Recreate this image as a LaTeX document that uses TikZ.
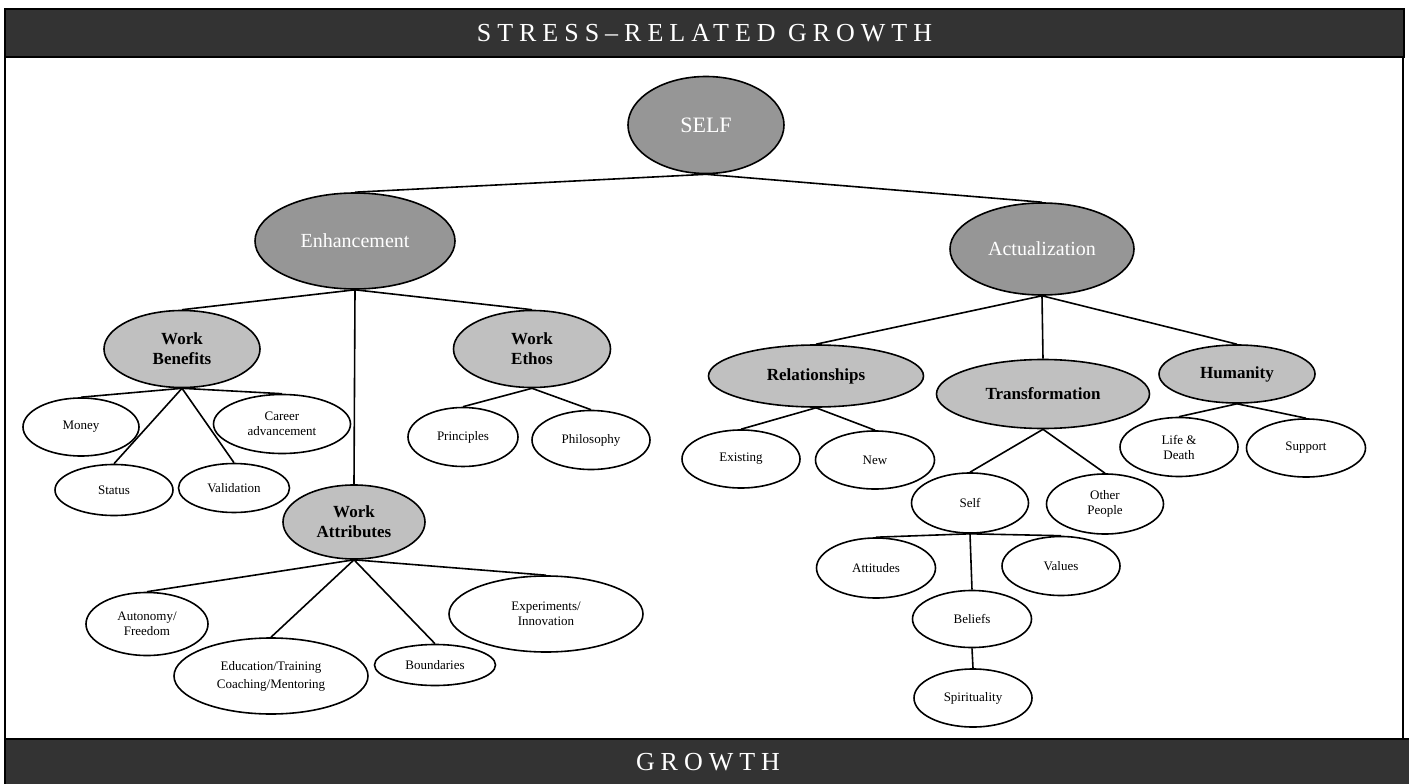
\documentclass[tikz,border=0pt]{standalone}
\usepackage{fontspec}
\setmainfont{Liberation Serif}
\newfontfamily\spacedfont[LetterSpace=23]{Liberation Serif}
\usetikzlibrary{shapes.geometric}
\definecolor{bardark}{HTML}{333333}
\definecolor{topgray}{HTML}{969696}
\definecolor{midgray}{HTML}{C0C0C0}
\tikzset{
  oval/.style={ellipse, draw=black, line width=1.6pt, inner sep=0pt, align=center},
  topnode/.style={oval, fill=topgray, text=white, font=\fontsize{20}{24}\selectfont},
  midnode/.style={oval, fill=midgray, text=black, font=\bfseries\fontsize{17}{20}\selectfont},
  leafnode/.style={oval, fill=white, text=black, font=\fontsize{13}{15}\selectfont},
  bar/.style={rectangle, draw=black, line width=1.6pt, fill=bardark, text=white, inner sep=0pt, font=\spacedfont\fontsize{26}{30}\selectfont},
  link/.style={line width=1.6pt, draw=black}
}
\begin{document}
\begin{tikzpicture}[x=1pt, y=-1pt]
\useasboundingbox (0,0) rectangle (1409,784);
% panel
\draw[line width=1.5pt] (5,57) -- (5,739);
\draw[line width=1.5pt] (1403,57) -- (1403,739);
% bars
\node[bar, minimum width=1399, minimum height=48] (topbar) at (704.5,33) {STRESS–RELATED GROWTH};
\node[bar, minimum width=1406, minimum height=47] (botbar) at (708,762.5) {GROWTH};

% top level
\node[topnode, minimum width=156, minimum height=97, font=\fontsize{22}{26}\selectfont] (self) at (706,125) {SELF};
\node[topnode, minimum width=200, minimum height=96] (enh) at (355,241) {Enhancement};
\node[topnode, minimum width=184, minimum height=92] (act) at (1042,249) {Actualization};

% middle level
\node[midnode, minimum width=156, minimum height=77] (wb) at (182,349) {Work\\Benefits};
\node[midnode, minimum width=157, minimum height=77] (we) at (532,349) {Work\\Ethos};
\node[midnode, minimum width=142, minimum height=74] (wa) at (354,522) {Work\\Attributes};
\node[midnode, minimum width=215, minimum height=62] (rel) at (816,376) {Relationships};
\node[midnode, minimum width=213, minimum height=69] (trans) at (1043,394) {Transformation};
\node[midnode, minimum width=156, minimum height=58] (hum) at (1237,374) {Humanity};

% leaves
\node[leafnode, minimum width=116, minimum height=58] (money) at (81,427) {Money};
\node[leafnode, minimum width=137, minimum height=59] (career) at (282,424) {Career\\advancement};
\node[leafnode, minimum width=118, minimum height=51] (status) at (114,490) {Status};
\node[leafnode, minimum width=111, minimum height=49] (valid) at (234,488) {Validation};
\node[leafnode, minimum width=110, minimum height=59] (princ) at (463,437) {Principles};
\node[leafnode, minimum width=118, minimum height=59] (philo) at (591,440) {Philosophy};
\node[leafnode, minimum width=122, minimum height=63] (auto) at (147,624) {Autonomy/\\Freedom};
\node[leafnode, minimum width=194, minimum height=76, font=\fontsize{13}{18}\selectfont] (edu) at (271,676) {Education/Training\\Coaching/Mentoring};
\node[leafnode, minimum width=121, minimum height=41] (bound) at (435,665) {Boundaries};
\node[leafnode, minimum width=194, minimum height=76] (exper) at (546,614) {Experiments/\\Innovation};
\node[leafnode, minimum width=118, minimum height=58] (exist) at (741,459) {Existing};
\node[leafnode, minimum width=119, minimum height=58] (new) at (875,460) {New};
\node[leafnode, minimum width=118, minimum height=59] (life) at (1179,447) {Life \&\\Death};
\node[leafnode, minimum width=119, minimum height=58] (supp) at (1306,448) {Support};
\node[leafnode, minimum width=117, minimum height=60] (tself) at (970,503) {Self};
\node[leafnode, minimum width=117, minimum height=60] (other) at (1105,504) {Other\\People};
\node[leafnode, minimum width=119, minimum height=60] (atti) at (876,568) {Attitudes};
\node[leafnode, minimum width=118, minimum height=59] (values) at (1061,566) {Values};
\node[leafnode, minimum width=119, minimum height=57] (belief) at (972,619) {Beliefs};
\node[leafnode, minimum width=118, minimum height=58] (spirit) at (973,698) {Spirituality};

% connectors
\draw[link] (self.south) -- (enh.north);
\draw[link] (self.south) -- (act.north);
\draw[link] (enh.south) -- (wb.north);
\draw[link] (enh.south) -- (we.north);
\draw[link] (enh.south) -- (wa.north);
\draw[link] (wb.south) -- (money.north);
\draw[link] (wb.south) -- (career.north);
\draw[link] (wb.south) -- (status.north);
\draw[link] (wb.south) -- (valid.north);
\draw[link] (we.south) -- (princ.north);
\draw[link] (we.south) -- (philo.north);
\draw[link] (wa.south) -- (auto.north);
\draw[link] (wa.south) -- (edu.north);
\draw[link] (wa.south) -- (bound.north);
\draw[link] (wa.south) -- (exper.north);
\draw[link] (act.south) -- (rel.north);
\draw[link] (act.south) -- (trans.north);
\draw[link] (act.south) -- (hum.north);
\draw[link] (rel.south) -- (exist.north);
\draw[link] (rel.south) -- (new.north);
\draw[link] (hum.south) -- (life.north);
\draw[link] (hum.south) -- (supp.north);
\draw[link] (trans.south) -- (tself.north);
\draw[link] (trans.south) -- (other.north);
\draw[link] (tself.south) -- (atti.north);
\draw[link] (tself.south) -- (belief.north);
\draw[link] (tself.south) -- (values.north);
\draw[link] (belief.south) -- (spirit.north);
\end{tikzpicture}
\end{document}
